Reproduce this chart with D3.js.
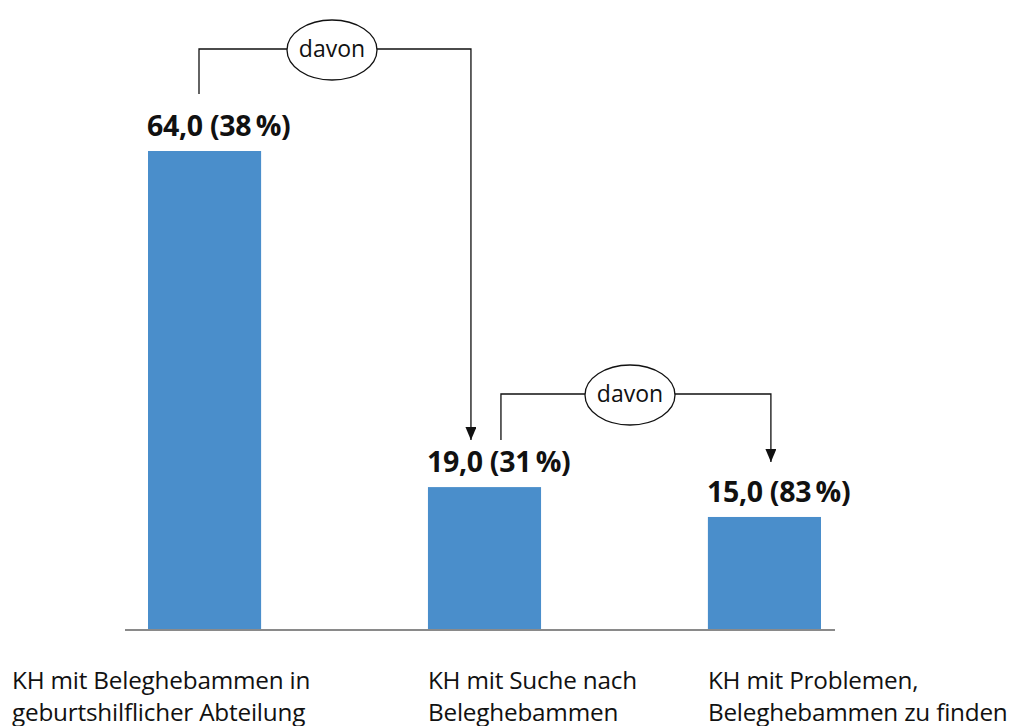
<!DOCTYPE html>
<html>
<head>
<meta charset="utf-8">
<script src="https://cdn.jsdelivr.net/npm/d3@7"></script>
<style>
  html, body { margin: 0; padding: 0; background: #fff; }
  svg { display: block; font-family: "Open Sans", sans-serif; }
</style>
</head>
<body>
<div id="chart"></div>
<script>
// data
const categories = ["KH mit Beleghebammen in geburtshilflicher Abteilung", "KH mit Suche nach Beleghebammen", "KH mit Problemen, Beleghebammen zu finden"];
const labelLines = [
  ["KH mit Beleghebammen in", "geburtshilflicher Abteilung"],
  ["KH mit Suche nach", "Beleghebammen"],
  ["KH mit Problemen,", "Beleghebammen zu finden"]
];
const values = [64.0, 19.0, 15.0];
const shares = [38, 31, 83];

const width = 1019, height = 726;
const svg = d3.select("#chart").append("svg")
  .attr("width", width)
  .attr("height", height);

const x = d3.scaleBand()
  .domain(categories)
  .range([148, 821])
  .paddingInner(0.596)
  .paddingOuter(0);

const y = d3.scaleLinear()
  .domain([0, 64])
  .range([629, 151]);

const fmt = d3.format(".1f");
const valueText = (v, s) => fmt(v).replace(".", ",") + " (" + s + "\u2009%)";

// bars
svg.append("g")
  .selectAll("rect")
  .data(values)
  .join("rect")
  .attr("x", (d, i) => x(categories[i]))
  .attr("y", d => y(d))
  .attr("width", x.bandwidth())
  .attr("height", d => y(0) - y(d))
  .attr("fill", "#4a8ecb");

// baseline
svg.append("line")
  .attr("x1", 125).attr("x2", 835)
  .attr("y1", y(0) + 1).attr("y2", y(0) + 1)
  .attr("stroke", "#8a8a8a")
  .attr("stroke-width", 2);

// value labels
svg.append("g")
  .selectAll("text")
  .data(values)
  .join("text")
  .attr("x", (d, i) => x(categories[i]) - 1)
  .attr("y", d => y(d) - 15)
  .attr("font-size", 28.5)
  .attr("font-weight", "bold")
  .attr("letter-spacing", -0.3)
  .attr("fill", "#111")
  .text((d, i) => valueText(d, shares[i]));

// category labels
const cat = svg.append("g")
  .selectAll("text")
  .data(labelLines)
  .join("text")
  .attr("x", (d, i) => i === 0 ? 12 : x(categories[i]))
  .attr("y", 689)
  .attr("font-size", 24.3)
  .attr("letter-spacing", -0.2)
  .attr("fill", "#111");
cat.selectAll("tspan")
  .data(d => d)
  .join("tspan")
  .attr("x", function () { return d3.select(this.parentNode).attr("x"); })
  .attr("dy", (d, j) => j === 0 ? 0 : 32)
  .text(d => d);

// "davon" connectors
const defs = svg.append("defs");
defs.append("marker")
  .attr("id", "arrow")
  .attr("viewBox", "0 0 13 11")
  .attr("refX", 13).attr("refY", 5.5)
  .attr("markerWidth", 13).attr("markerHeight", 11)
  .attr("markerUnits", "userSpaceOnUse")
  .attr("orient", "auto")
  .append("path")
  .attr("d", "M0,0 L13,5.5 L0,11 Z")
  .attr("fill", "#111");

const connectors = [
  { to: 1, x0: x(categories[0]) + 51, y0: y(values[0]) - 57, x1: x(categories[1]) + 43, yTop: 49, cx: 332, tipOff: 47 },
  { to: 2, x0: x(categories[1]) + 73, y0: y(values[1]) - 47, x1: x(categories[2]) + 63, yTop: 394, cx: 630, tipOff: 55 }
];

connectors.forEach(c => {
  const yEnd = y(values[c.to]) - c.tipOff;
  const g = svg.append("g");
  g.append("path")
    .attr("d", `M${c.x0},${c.y0} V${c.yTop} H${c.x1} V${yEnd}`)
    .attr("fill", "none")
    .attr("stroke", "#111")
    .attr("stroke-width", 1.3)
    .attr("marker-end", "url(#arrow)");
  g.append("ellipse")
    .attr("cx", c.cx).attr("cy", c.yTop + 1)
    .attr("rx", 45).attr("ry", 30)
    .attr("fill", "#fff")
    .attr("stroke", "#111")
    .attr("stroke-width", 1.3);
  g.append("text")
    .attr("x", c.cx).attr("y", c.yTop + 8)
    .attr("text-anchor", "middle")
    .attr("font-size", 23)
    .attr("fill", "#111")
    .text("davon");
});
</script>
</body>
</html>
